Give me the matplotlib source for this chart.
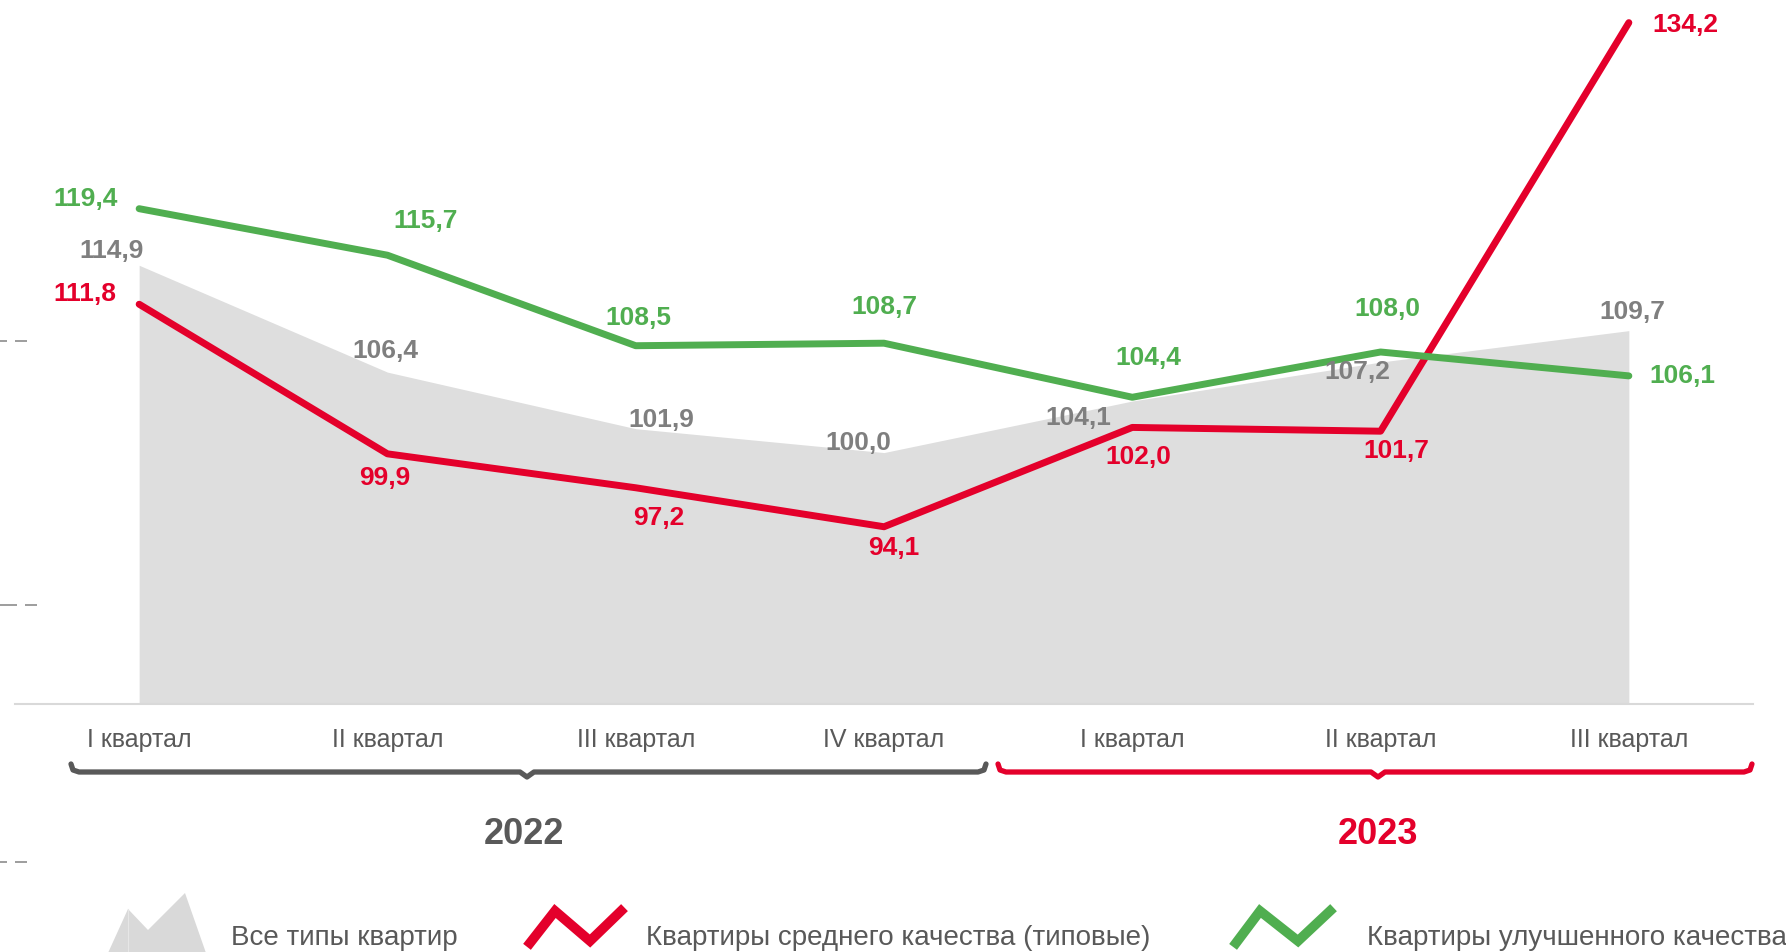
import numpy as np
import matplotlib.pyplot as plt
from matplotlib.patches import Polygon

plt.rcParams['font.family'] = ['Liberation Sans', 'DejaVu Sans']

# Data
quarters = ["I квартал", "II квартал", "III квартал", "IV квартал",
            "I квартал", "II квартал", "III квартал"]
all_types = [114.9, 106.4, 101.9, 100.0, 104.1, 107.2, 109.7]
typical = [111.8, 99.9, 97.2, 94.1, 102.0, 101.7, 134.2]
improved = [119.4, 115.7, 108.5, 108.7, 104.4, 108.0, 106.1]
years = ["2022", "2023"]
legend_labels = ["Все типы квартир", "Квартиры среднего качества (типовые)",
                 "Квартиры улучшенного качества"]

# label offsets (pixels) from the points
off_gray = [(-28, 14), (-2, 21), (26, 9), (-26, 10), (-54, -17), (-23, -10), (3, 19)]
off_red = [(-54, 10), (-3, -24), (23, -30), (10, -21), (6, -30), (16, -20), (57, -2)]
off_green = [(-54, 10), (38, 34), (3, 28), (0, 36), (16, 39), (7, 43), (54, 0)]

RED = "#e4002b"
GREEN = "#50ae50"
FILL = "#dedede"
DARK = "#595959"

W, H = 1786, 952
fig = plt.figure(figsize=(W / 100, H / 100), dpi=100)
ax = fig.add_axes([15 / W, 248 / H, (1753 - 15) / W, 704 / H])

x = np.arange(len(quarters))
ax.fill_between(x, 80, all_types, color=FILL, lw=0, zorder=1)
ax.plot(x, typical, color=RED, lw=5, solid_capstyle='round', solid_joinstyle='round', zorder=3)
ax.plot(x, improved, color=GREEN, lw=5, solid_capstyle='round', solid_joinstyle='round', zorder=3)

ax.set_xlim(-0.5, 6.5)
ax.set_ylim(80, 136.0)
ax.set_xticks(x)
ax.set_xticklabels(quarters, fontsize=18, color=DARK)
ax.tick_params(axis='x', length=0, pad=17)
ax.set_yticks([])
for s in ['top', 'left', 'right']:
    ax.spines[s].set_visible(False)
ax.spines['bottom'].set_color("#d9d9d9")
ax.spines['bottom'].set_linewidth(1.5)


def fmt(v):
    return f"{v:.1f}".replace('.', ',')


for vals, offs, col in [(all_types, off_gray, "#7f7f7f"), (typical, off_red, RED),
                        (improved, off_green, GREEN)]:
    for i, (v, o) in enumerate(zip(vals, offs)):
        ax.annotate(fmt(v), (i, v), xytext=o, textcoords='offset pixels',
                    ha='center', va='center', fontsize=19, fontweight='bold',
                    color=col, zorder=5)

# overlay in pixel coordinates for braces, years, legend
ov = fig.add_axes([0, 0, 1, 1])
ov.set_xlim(0, W)
ov.set_ylim(H, 0)
ov.axis('off')


def brace(x0, x1, mid, y, col):
    px = [x0, x0 + 2, x0 + 8, mid - 7, mid, mid + 7, x1 - 8, x1 - 2, x1]
    py = [y - 8, y - 2, y, y, y + 5, y, y, y - 2, y - 8]
    ov.plot(px, py, color=col, lw=3.8, solid_capstyle='round', solid_joinstyle='round')


brace(71, 986, 527, 772, DARK)
brace(998, 1752, 1378, 772, RED)
ov.text(524, 835, years[0], ha='center', va='center', fontsize=26, fontweight='bold', color=DARK)
ov.text(1378, 835, years[1], ha='center', va='center', fontsize=26, fontweight='bold', color=RED)

# left-edge dash marks
for yy, segs in [(341, [(0, 7), (15, 27)]), (605, [(0, 17), (25, 37)]), (862, [(0, 7), (15, 27)])]:
    for a, b in segs:
        ov.plot([a, b], [yy, yy], color="#8c8c8c", lw=1.2, solid_capstyle='butt')

# legend icons
ov.add_patch(Polygon([(108, 953), (128, 909), (148, 930), (185, 893), (206, 953)],
                     closed=True, color="#d9d9d9", lw=0))
ov.plot([128, 128], [909, 952], color="#e6e6e6", lw=0.8)
ov.plot([530, 555, 590, 621], [943, 911, 941, 911], color=RED, lw=7, solid_joinstyle='miter')
ov.plot([1236, 1260, 1298, 1330], [943, 911, 941, 911], color=GREEN, lw=7, solid_joinstyle='miter')
for lx, lab in zip([231, 646, 1367], legend_labels):
    ov.text(lx, 938, lab, ha='left', va='center', fontsize=20, color=DARK)

fig.savefig("out.png", dpi=100)
